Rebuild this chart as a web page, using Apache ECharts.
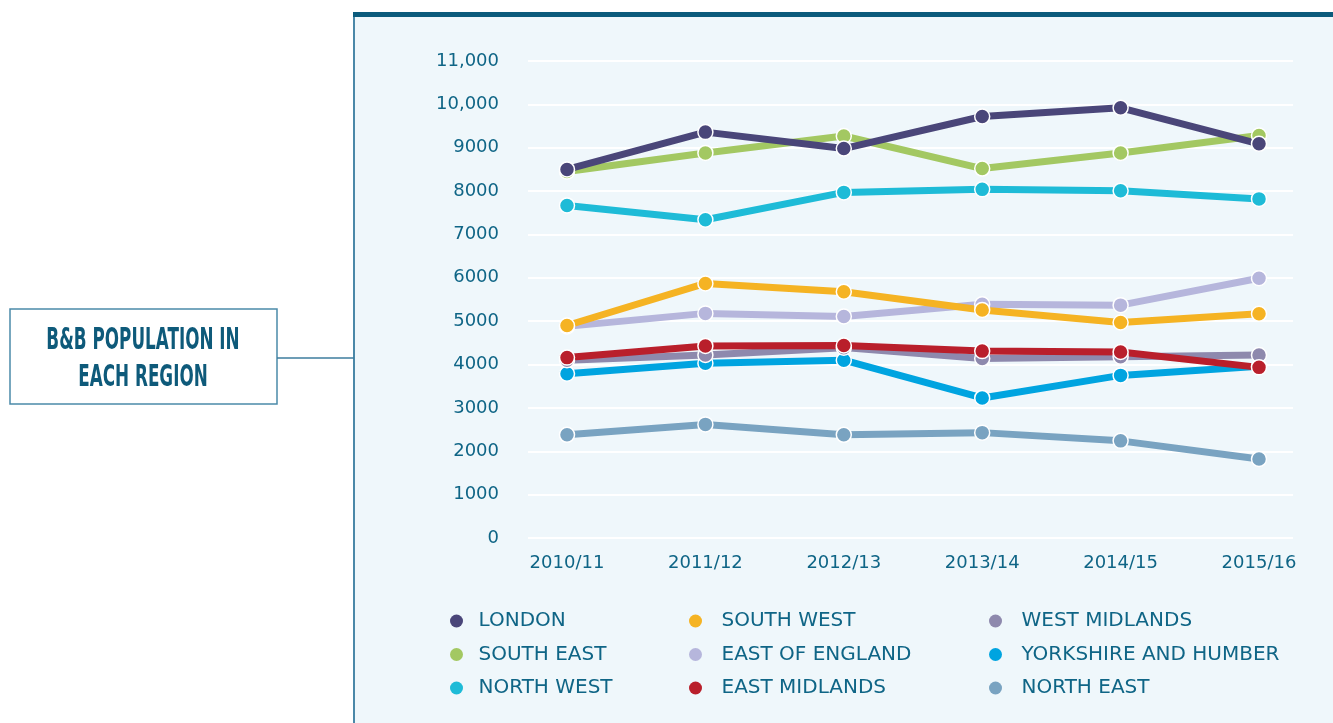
<!DOCTYPE html>
<html>
<head>
<meta charset="utf-8">
<script src="https://cdn.jsdelivr.net/npm/echarts@6/dist/echarts.min.js"></script>
<style>
html,body{margin:0;padding:0;background:#fff;}
#main{width:1333px;height:723px;}
</style>
</head>
<body>
<div id="main"></div>
<script>
// B&B population per region
var years = ['2010/11', '2011/12', '2012/13', '2013/14', '2014/15', '2015/16'];
var yTicks = [0, 1000, 2000, 3000, 4000, 5000, 6000, 7000, 8000, 9000, 10000, 11000];

var london = [8500, 9360, 8980, 9720, 9920, 9090];
var southEast = [8450, 8880, 9270, 8520, 8880, 9280];
var northWest = [7670, 7340, 7970, 8040, 8010, 7820];
var southWest = [4900, 5870, 5680, 5260, 4970, 5170];
var eastOfEngland = [4880, 5180, 5110, 5390, 5370, 5990];
var eastMidlands = [4160, 4430, 4440, 4310, 4290, 3935];
var westMidlands = [4100, 4220, 4390, 4140, 4180, 4220];
var yorkshire = [3790, 4030, 4100, 3230, 3750, 3960];
var northEast = [2380, 2620, 2380, 2430, 2240, 1820];

var txtColor = '#0f6586';
var font = 'DejaVu Sans';

function mkSeries(name, data, color) {
	return {
		name: name,
		type: 'line',
		xAxisIndex: 1,
		yAxisIndex: 1,
		data: data,
		symbol: 'circle',
		symbolSize: 15,
		lineStyle: {width: 7, color: color},
		itemStyle: {color: color, borderColor: '#ffffff', borderWidth: 1.5},
		emphasis: {disabled: true},
		animation: false
	};
}

function mkLegend(left, w, names) {
	return {
		orient: 'vertical',
		left: left,
		top: 605,
		itemWidth: w,
		itemHeight: 13,
		itemGap: 11.5,
		icon: 'circle',
		selectedMode: false,
		itemStyle: {borderWidth: 0},
		textStyle: {color: txtColor, fontSize: 20, fontFamily: font, lineHeight: 22},
		data: names
	};
}

var chart = echarts.init(document.getElementById('main'));
var option = {
	backgroundColor: '#ffffff',
	animation: false,
	graphic: [
		// panel
		{type: 'rect', z: -10, shape: {x: 353, y: 12, width: 980, height: 711}, style: {fill: '#eff7fb'}},
		{type: 'rect', z: -9, shape: {x: 353, y: 12, width: 2, height: 711}, style: {fill: '#4a88a8'}},
		{type: 'rect', z: -9, shape: {x: 353, y: 12, width: 980, height: 5}, style: {fill: '#0b5b7c'}},
		// title box
		{type: 'rect', shape: {x: 10, y: 309, width: 267, height: 95}, style: {fill: '#ffffff', stroke: '#4b8aa9', lineWidth: 1.5}},
		{type: 'line', shape: {x1: 277, y1: 358, x2: 354, y2: 358}, style: {stroke: '#3d7d9e', lineWidth: 1.5}},
		{type: 'text', x: 143, y: 341, scaleX: 0.84, scaleY: 1.5,
			style: {text: 'B&B POPULATION IN', font: 'bold 20px "DejaVu Sans"', fill: '#0e5a7a', align: 'center', verticalAlign: 'middle'}},
		{type: 'text', x: 143, y: 378, scaleX: 0.84, scaleY: 1.5,
			style: {text: 'EACH REGION', font: 'bold 20px "DejaVu Sans"', fill: '#0e5a7a', align: 'center', verticalAlign: 'middle'}}
	],
	legend: [
		mkLegend(445, 34, ['LONDON', 'SOUTH EAST', 'NORTH WEST']),
		mkLegend(684, 42, ['SOUTH WEST', 'EAST OF ENGLAND', 'EAST MIDLANDS']),
		mkLegend(984, 42, ['WEST MIDLANDS', 'YORKSHIRE AND HUMBER', 'NORTH EAST'])
	],
	grid: [
		{left: 528, right: 40, top: 61, bottom: 185},
		{left: 567, right: 74, top: 61, bottom: 185}
	],
	xAxis: [
		{gridIndex: 0, type: 'category', data: years, show: false},
		{gridIndex: 1, type: 'category', data: years, boundaryGap: false,
			axisLine: {show: false}, axisTick: {show: false},
			axisLabel: {color: txtColor, fontSize: 18, fontFamily: font, margin: 16}}
	],
	yAxis: [
		{gridIndex: 0, type: 'value', min: yTicks[0], max: yTicks[yTicks.length - 1], interval: 1000,
			axisLine: {show: false}, axisTick: {show: false},
			splitLine: {lineStyle: {color: '#ffffff', width: 2}},
			axisLabel: {color: txtColor, fontSize: 18, fontFamily: font, margin: 29,
				formatter: function(v) {
					return v >= 10000 ? echarts.format.addCommas(v) : String(v);
				}}},
		{gridIndex: 1, type: 'value', min: yTicks[0], max: yTicks[yTicks.length - 1], interval: 1000, show: false,
			splitLine: {show: false}}
	],
	series: [
		mkSeries('NORTH EAST', northEast, '#79a3c1'),
		mkSeries('YORKSHIRE AND HUMBER', yorkshire, '#00a4e0'),
		mkSeries('WEST MIDLANDS', westMidlands, '#8e89ad'),
		mkSeries('EAST MIDLANDS', eastMidlands, '#b91f2b'),
		mkSeries('EAST OF ENGLAND', eastOfEngland, '#b6b6dc'),
		mkSeries('SOUTH WEST', southWest, '#f5b323'),
		mkSeries('NORTH WEST', northWest, '#1ebbd7'),
		mkSeries('SOUTH EAST', southEast, '#a3c862'),
		mkSeries('LONDON', london, '#4a4679')
	]
};
chart.setOption(option);
</script>
</body>
</html>
